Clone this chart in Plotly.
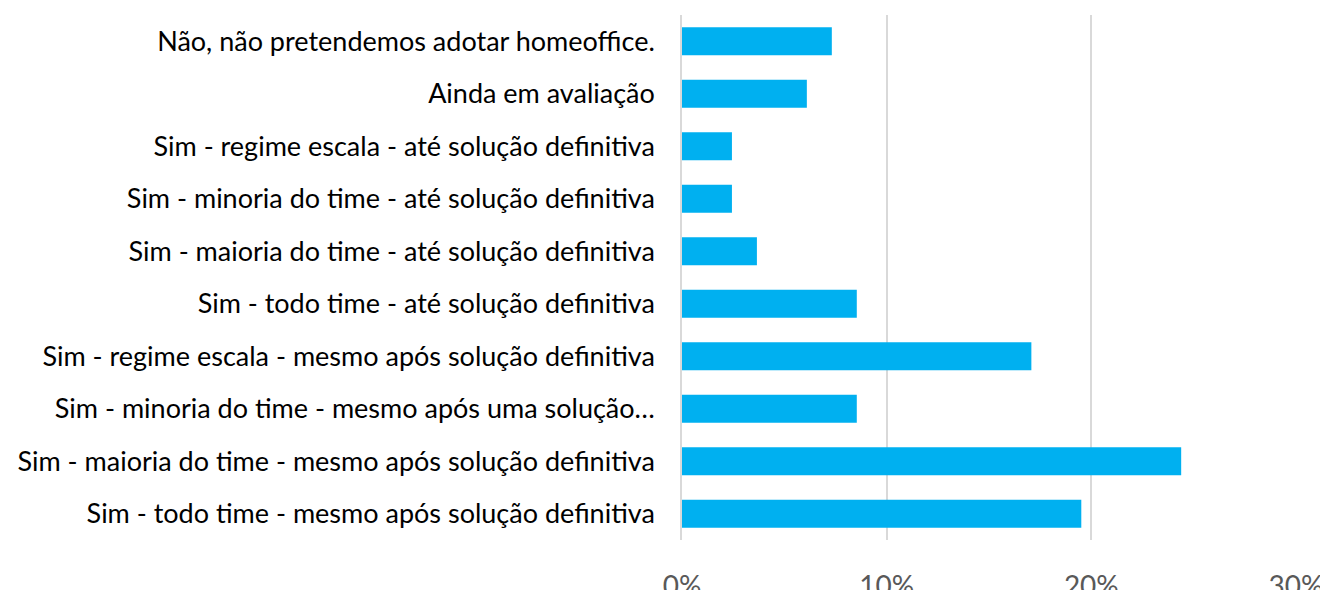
import plotly.graph_objects as go

categories = [
    "Sim - todo time - mesmo após solução definitiva",
    "Sim - maioria do time - mesmo após solução definitiva",
    "Sim - minoria do time - mesmo após uma solução…",
    "Sim - regime escala - mesmo após solução definitiva",
    "Sim - todo time - até solução definitiva",
    "Sim - maioria do time - até solução definitiva",
    "Sim - minoria do time - até solução definitiva",
    "Sim - regime escala - até solução definitiva",
    "Ainda em avaliação",
    "Não, não pretendemos adotar homeoffice.",
]
values = [0.1951, 0.2439, 0.0854, 0.1707, 0.0854, 0.0366, 0.0244, 0.0244, 0.0610, 0.0732]
x_ticks = [0, 0.1, 0.2, 0.3]
x_tick_labels = ["0%", "10%", "20%", "30%"]

fig = go.Figure(
    go.Bar(
        x=values,
        y=categories,
        orientation="h",
        marker=dict(color="#00B0F0", line=dict(width=0)),
        width=0.53,
    )
)

# page body has an 8px default margin; figure sized/offset to compensate
fig.update_layout(
    width=1320,
    height=582,
    margin=dict(l=674, r=32, t=7, b=50),
    plot_bgcolor="white",
    paper_bgcolor="white",
    showlegend=False,
    font=dict(family="Lato, 'Open Sans', sans-serif"),
)
fig.update_xaxes(
    range=[0, 0.3],
    tickvals=x_ticks,
    ticktext=x_tick_labels,
    showgrid=True,
    gridcolor="#D9D9D9",
    gridwidth=1.5,
    zeroline=False,
    showline=False,
    ticks="outside",
    ticklen=21,
    tickcolor="rgba(0,0,0,0)",
    tickfont=dict(size=28, color="#595959"),
    automargin=False,
)
fig.update_yaxes(
    type="category",
    categoryorder="array",
    categoryarray=categories,
    range=[-0.5, 9.5],
    showgrid=False,
    zeroline=False,
    showline=True,
    linecolor="#D9D9D9",
    linewidth=1.5,
    ticks="outside",
    ticklen=20,
    tickcolor="rgba(0,0,0,0)",
    tickfont=dict(size=27, color="#000000"),
    automargin=False,
)

fig.write_html("out.html")
